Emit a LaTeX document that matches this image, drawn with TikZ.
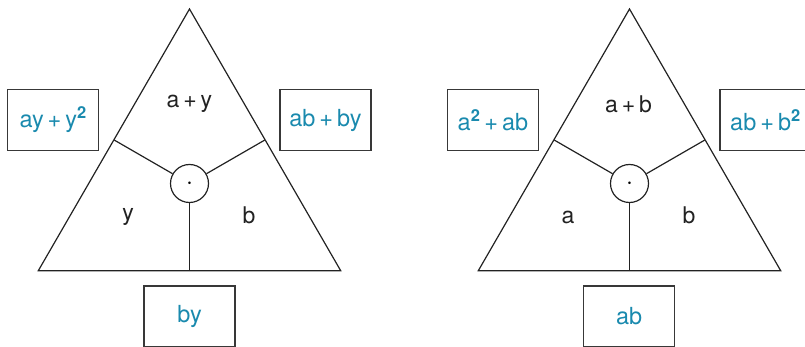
\documentclass[tikz,border=0pt]{standalone}
\usepackage{fontspec}
\setmainfont{TeX Gyre Heros}
\definecolor{teal1}{HTML}{1A8AAE}
\definecolor{ink}{HTML}{222222}
\newcommand\pl{\hspace{0.17em}+\hspace{0.17em}}
\begin{document}
\begin{tikzpicture}[x=1pt,y=-1pt,
  edge/.style={draw=ink,line width=1.2pt,line join=miter},
  hub/.style={circle,draw=ink,line width=1.2pt,minimum size=38pt,inner sep=0pt,font=\fontsize{30}{30}\selectfont},
  result/.style={draw=ink!90,line width=1.2pt,minimum width=91pt,minimum height=61pt,inner sep=0pt,text=teal1,font=\fontsize{23.5}{26}\selectfont},
  lab/.style={text=ink,font=\fontsize{23}{26}\selectfont,inner sep=0pt}]
\useasboundingbox (0,0) rectangle (805,347);
\clip (0,0) rectangle (805,347);
% left triangle
\coordinate (A1) at (189.5,9);
\coordinate (L1) at (38.3,270.7);
\coordinate (R1) at (340.7,270.7);
\draw[edge] (A1) -- (L1) -- (R1) -- cycle;
\node[hub] (c1) at (189.5,183.5) {$\cdot$};
\coordinate (mR1) at (265.1,139.85);
\coordinate (mB1) at (189.5,270.7);
\coordinate (mLL1) at (113.9,139.85);
\draw[edge] (c1) -- (mLL1);
\draw[edge] (c1) -- (mR1);
\draw[edge] (c1) -- (mB1);
\node[lab] (t1) at (189.5,104) {a\pl y};
\node[lab] (l1) at (128,217) {y};
\node[lab] (r1) at (249,215) {b};
\node[result] (bl1) at (53.2,120) {ay\pl y\textsuperscript{\bfseries 2}};
\node[result] (br1) at (325.5,120) {ab\pl by};
\node[result] (bb1) at (189.5,316.5) {by};
% right triangle
\coordinate (A2) at (629.5,9);
\coordinate (L2) at (478.3,270.7);
\coordinate (R2) at (780.7,270.7);
\draw[edge] (A2) -- (L2) -- (R2) -- cycle;
\node[hub] (c2) at (629.5,183.5) {$\cdot$};
\coordinate (mLL2) at (553.9,139.85);
\coordinate (mR2) at (705.1,139.85);
\coordinate (mB2) at (629.5,270.7);
\draw[edge] (c2) -- (mLL2);
\draw[edge] (c2) -- (mR2);
\draw[edge] (c2) -- (mB2);
\node[lab] (t2) at (628.5,104) {a\pl b};
\node[lab] (l2) at (568,217) {a};
\node[lab] (r2) at (689,215) {b};
\node[result] (bl2) at (493,120) {a\textsuperscript{\bfseries 2}\pl ab};
\node[result] (br2) at (765.5,120) {ab\pl b\textsuperscript{\bfseries 2}};
\node[result] (bb2) at (629.2,316.5) {ab};
\end{tikzpicture}
\end{document}
